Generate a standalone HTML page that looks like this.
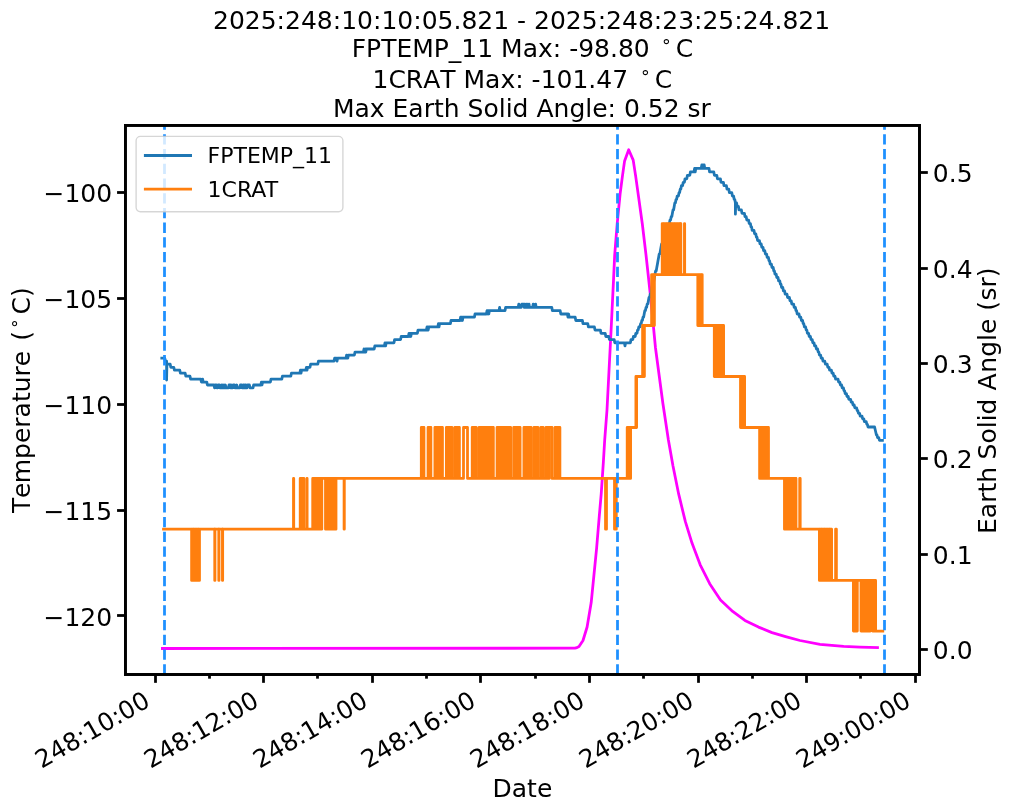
<!DOCTYPE html>
<html lang="en"><head><meta charset="utf-8"><title>FPTEMP_11 / 1CRAT / Earth Solid Angle</title>
<style>html,body{margin:0;padding:0;background:#fff;}svg{display:block;}</style></head>
<body>
<svg width="1011" height="811" viewBox="0 0 1011 811" font-family="'DejaVu Sans', 'Liberation Sans', sans-serif" font-size="25px" fill="#000">
<rect width="1011" height="811" fill="#fff"/>
<defs><clipPath id="ax"><rect x="125.4" y="125.4" width="794.1" height="549.1"/></clipPath></defs>
<g clip-path="url(#ax)" fill="none" stroke-width="2.78">
<path id="mag" d="M162.4 648.5 L574.9 648.2 L577.0 647.6 L579.0 646.5 L583.0 640.5 L587.1 627.0 L591.2 602.6 L593.9 575.5 L596.6 548.4 L599.3 515.9 L601.2 494.2 L603.4 461.7 L604.7 440.0 L607.0 410.0 L611.1 330.0 L613.6 278.4 L614.7 254.9 L617.2 223.7 L620.1 194.1 L622.4 176.4 L624.6 160.9 L628.7 149.8 L633.2 160.1 L635.7 176.4 L638.6 197.1 L642.3 223.7 L646.0 254.9 L648.1 274.0 L650.7 298.1 L655.5 348.0 L662.9 403.5 L668.4 440.0 L673.0 466.0 L678.7 494.2 L685.3 521.4 L692.0 543.1 L700.2 564.8 L709.7 583.7 L720.5 600.0 L732.7 611.4 L744.9 620.4 L758.5 627.1 L772.0 632.6 L785.6 636.6 L800.0 640.5 L820.0 644.3 L843.7 646.4 L860.0 647.1 L877.5 647.6" stroke="#ff00ff" stroke-linejoin="round" stroke-linecap="square"/>
</g>
<g clip-path="url(#ax)" fill="none" stroke-width="2.78" stroke-linejoin="round">
<path d="M161.8 358.2 L162.4 358.2 L163.0 358.2 L163.6 358.2 L164.2 358.2 L164.8 358.2 L165.4 361.2 L166.0 361.2 L166.6 361.2 L166.6 364.2 L166.6 380.0 L166.9 364.2 L167.2 364.2 L167.8 364.2 L168.4 364.2 L169.0 364.2 L169.6 364.2 L170.2 364.2 L170.8 367.3 L171.4 367.3 L172.0 367.3 L172.6 367.3 L173.2 367.3 L173.8 367.3 L174.4 370.2 L175.0 370.2 L175.6 370.2 L176.2 370.2 L176.8 370.2 L177.4 370.2 L178.0 370.2 L178.6 370.2 L179.2 370.2 L179.8 370.2 L180.4 373.2 L181.0 373.2 L181.6 373.2 L182.2 373.2 L182.8 373.2 L183.4 373.2 L184.0 373.2 L184.6 373.2 L185.2 373.2 L185.8 376.2 L186.4 376.2 L187.0 376.2 L187.6 376.2 L188.2 376.2 L188.8 376.2 L189.4 376.2 L190.0 376.2 L190.6 379.1 L191.2 379.1 L191.8 379.1 L192.4 379.1 L193.0 379.1 L193.6 379.1 L194.2 379.1 L194.8 379.1 L195.4 379.1 L196.0 379.1 L196.6 379.1 L197.2 379.1 L197.8 379.1 L198.4 379.1 L199.0 379.1 L199.6 379.1 L200.2 379.1 L200.8 379.1 L201.4 382.1 L202.0 382.1 L202.6 379.1 L203.2 382.1 L203.8 382.1 L204.4 382.1 L205.0 382.1 L205.6 382.1 L206.2 382.1 L206.8 382.1 L207.4 385.0 L208.0 385.0 L208.6 385.0 L209.2 385.0 L209.8 385.0 L210.4 385.0 L211.0 385.0 L211.6 385.0 L212.2 385.0 L212.8 385.0 L213.4 385.0 L214.0 385.0 L214.6 387.9 L215.2 385.0 L215.8 385.0 L216.4 385.0 L217.0 387.9 L217.6 387.9 L218.2 385.0 L218.8 385.0 L219.4 385.0 L220.0 387.9 L220.6 387.9 L221.2 387.9 L221.8 385.0 L222.4 387.9 L223.0 385.0 L223.6 387.9 L224.2 385.0 L224.8 387.9 L225.4 385.0 L226.0 387.9 L226.6 387.9 L227.2 387.9 L227.8 387.9 L228.4 387.9 L229.0 385.0 L229.6 385.0 L230.2 385.0 L230.8 387.9 L231.4 385.0 L232.0 387.9 L232.6 387.9 L233.2 385.0 L233.8 385.0 L234.4 385.0 L235.0 387.9 L235.6 387.9 L236.2 387.9 L236.8 385.0 L237.4 387.9 L238.0 387.9 L238.6 387.9 L239.2 387.9 L239.8 387.9 L240.4 385.0 L241.0 385.0 L241.6 385.0 L242.2 387.9 L242.8 387.9 L243.4 385.0 L244.0 385.0 L244.6 387.9 L245.2 385.0 L245.8 385.0 L246.4 387.9 L247.0 387.9 L247.6 385.0 L248.2 385.0 L248.8 385.0 L249.4 385.0 L250.0 387.9 L250.6 387.9 L251.2 387.9 L251.8 387.9 L252.4 387.9 L253.0 387.9 L253.6 385.0 L254.2 385.0 L254.8 385.0 L255.4 385.0 L256.0 385.0 L256.6 385.0 L257.2 385.0 L257.8 385.0 L258.4 385.0 L259.0 385.0 L259.6 385.0 L260.2 385.0 L260.8 385.0 L261.4 382.1 L262.0 385.0 L262.6 382.1 L263.2 382.1 L263.8 382.1 L264.4 382.1 L265.0 382.1 L265.6 382.1 L266.2 382.1 L266.8 382.1 L267.4 382.1 L268.0 382.1 L268.6 382.1 L269.2 382.1 L269.8 382.1 L270.4 382.1 L271.0 379.1 L271.6 379.1 L272.2 379.1 L272.8 379.1 L273.4 379.1 L274.0 379.1 L274.6 379.1 L275.2 379.1 L275.8 379.1 L276.4 379.1 L277.0 379.1 L277.6 379.1 L278.2 379.1 L278.8 379.1 L279.4 379.1 L280.0 379.1 L280.6 379.1 L281.2 379.1 L281.8 379.1 L282.4 376.2 L283.0 376.2 L283.6 376.2 L284.2 376.2 L284.8 376.2 L285.4 376.2 L286.0 376.2 L286.6 376.2 L287.2 376.2 L287.8 376.2 L288.4 376.2 L289.0 376.2 L289.6 376.2 L290.2 376.2 L290.8 376.2 L291.4 373.2 L292.0 373.2 L292.6 373.2 L293.2 373.2 L293.8 373.2 L294.4 373.2 L295.0 373.2 L295.6 373.2 L296.2 373.2 L296.8 373.2 L297.4 373.2 L298.0 373.2 L298.6 373.2 L299.2 373.2 L299.8 373.2 L300.4 370.2 L301.0 373.2 L301.6 370.2 L302.2 370.2 L302.8 370.2 L303.4 370.2 L304.0 370.2 L304.6 370.2 L305.2 370.2 L305.8 370.2 L306.4 367.3 L307.0 370.2 L307.6 367.3 L308.2 367.3 L308.8 367.3 L309.4 367.3 L310.0 367.3 L310.6 364.2 L311.2 364.2 L311.8 364.2 L312.4 364.2 L313.0 364.2 L313.6 364.2 L314.2 364.2 L314.8 364.2 L315.4 364.2 L316.0 364.2 L316.6 364.2 L317.2 364.2 L317.8 364.2 L318.4 361.2 L319.0 361.2 L319.6 361.2 L320.2 361.2 L320.8 361.2 L321.4 361.2 L322.0 361.2 L322.6 361.2 L323.2 361.2 L323.8 361.2 L324.4 361.2 L325.0 361.2 L325.6 361.2 L326.2 361.2 L326.8 361.2 L327.4 361.2 L328.0 361.2 L328.6 361.2 L329.2 361.2 L329.8 361.2 L330.4 361.2 L331.0 361.2 L331.6 361.2 L332.2 361.2 L332.8 361.2 L333.4 361.2 L334.0 361.2 L334.6 358.2 L335.2 358.2 L335.8 358.2 L336.4 358.2 L337.0 361.2 L337.6 358.2 L338.2 358.2 L338.8 358.2 L339.4 358.2 L340.0 358.2 L340.6 358.2 L341.2 358.2 L341.8 358.2 L342.4 358.2 L343.0 358.2 L343.6 358.2 L344.2 358.2 L344.8 358.2 L345.4 358.2 L346.0 358.2 L346.6 355.1 L347.2 358.2 L347.8 358.2 L348.4 355.1 L349.0 355.1 L349.6 355.1 L350.2 355.1 L350.8 355.1 L351.4 355.1 L352.0 355.1 L352.6 355.1 L353.2 355.1 L353.8 355.1 L354.4 355.1 L355.0 352.1 L355.6 352.1 L356.2 352.1 L356.8 352.1 L357.4 352.1 L358.0 352.1 L358.6 352.1 L359.2 352.1 L359.8 352.1 L360.4 352.1 L361.0 352.1 L361.6 352.1 L362.2 352.1 L362.8 352.1 L363.4 352.1 L364.0 349.0 L364.6 352.1 L365.2 349.0 L365.8 352.1 L366.4 349.0 L367.0 349.0 L367.6 349.0 L368.2 349.0 L368.8 349.0 L369.4 349.0 L370.0 349.0 L370.6 349.0 L371.2 349.0 L371.8 349.0 L372.4 349.0 L373.0 349.0 L373.6 349.0 L374.2 349.0 L374.8 345.9 L375.4 345.9 L376.0 345.9 L376.6 345.9 L377.2 345.9 L377.8 345.9 L378.4 345.9 L379.0 345.9 L379.6 345.9 L380.2 345.9 L380.8 345.9 L381.4 345.9 L382.0 345.9 L382.6 345.9 L383.2 345.9 L383.8 345.9 L384.4 345.9 L385.0 342.8 L385.6 345.9 L386.2 342.8 L386.8 342.8 L387.4 342.8 L388.0 342.8 L388.6 342.8 L389.2 342.8 L389.8 342.8 L390.4 342.8 L391.0 342.8 L391.6 342.8 L392.2 342.8 L392.8 342.8 L393.4 342.8 L394.0 342.8 L394.6 339.6 L395.2 339.6 L395.8 339.6 L396.4 339.6 L397.0 339.6 L397.6 339.6 L398.2 339.6 L398.8 339.6 L399.4 339.6 L400.0 339.6 L400.6 339.6 L401.2 336.5 L401.8 336.5 L402.4 336.5 L403.0 336.5 L403.6 336.5 L404.2 336.5 L404.8 336.5 L405.4 336.5 L406.0 336.5 L406.6 336.5 L407.2 336.5 L407.8 336.5 L408.4 336.5 L409.0 333.3 L409.6 336.5 L410.2 333.3 L410.8 336.5 L411.4 333.3 L412.0 333.3 L412.6 333.3 L413.2 333.3 L413.8 333.3 L414.4 333.3 L415.0 333.3 L415.6 333.3 L416.2 333.3 L416.8 333.3 L417.4 333.3 L418.0 330.1 L418.6 330.1 L419.2 330.1 L419.8 330.1 L420.4 330.1 L421.0 330.1 L421.6 330.1 L422.2 330.1 L422.8 330.1 L423.4 330.1 L424.0 330.1 L424.6 330.1 L425.2 330.1 L425.8 330.1 L426.4 330.1 L427.0 326.9 L427.6 326.9 L428.2 330.1 L428.8 326.9 L429.4 326.9 L430.0 326.9 L430.6 326.9 L431.2 326.9 L431.8 326.9 L432.4 326.9 L433.0 326.9 L433.6 326.9 L434.2 326.9 L434.8 326.9 L435.4 326.9 L436.0 326.9 L436.6 326.9 L437.2 326.9 L437.8 326.9 L438.4 323.7 L439.0 326.9 L439.6 323.7 L440.2 323.7 L440.8 323.7 L441.4 323.7 L442.0 323.7 L442.6 323.7 L443.2 323.7 L443.8 323.7 L444.4 323.7 L445.0 323.7 L445.6 323.7 L446.2 323.7 L446.8 323.7 L447.4 323.7 L448.0 323.7 L448.6 323.7 L449.2 323.7 L449.8 323.7 L450.4 323.7 L451.0 320.5 L451.6 320.5 L452.2 320.5 L452.8 320.5 L453.4 320.5 L454.0 320.5 L454.6 320.5 L455.2 320.5 L455.8 320.5 L456.4 320.5 L457.0 320.5 L457.6 320.5 L458.2 320.5 L458.8 320.5 L459.4 320.5 L460.0 320.5 L460.6 317.2 L461.2 320.5 L461.8 317.2 L462.4 320.5 L463.0 317.2 L463.6 317.2 L464.2 317.2 L464.8 317.2 L465.4 317.2 L466.0 317.2 L466.6 317.2 L467.2 317.2 L467.8 317.2 L468.4 317.2 L469.0 317.2 L469.6 317.2 L470.2 317.2 L470.8 317.2 L471.4 317.2 L472.0 317.2 L472.6 317.2 L473.2 317.2 L473.8 317.2 L474.4 317.2 L475.0 314.0 L475.6 314.0 L476.2 314.0 L476.8 314.0 L477.4 314.0 L478.0 314.0 L478.6 314.0 L479.2 314.0 L479.8 314.0 L480.4 314.0 L481.0 314.0 L481.6 314.0 L482.2 314.0 L482.8 314.0 L483.4 314.0 L484.0 314.0 L484.6 314.0 L485.2 314.0 L485.8 314.0 L486.4 314.0 L487.0 310.7 L487.6 314.0 L488.2 310.7 L488.8 314.0 L489.4 310.7 L490.0 310.7 L490.6 310.7 L491.2 310.7 L491.8 310.7 L492.4 310.7 L493.0 310.7 L493.6 310.7 L494.2 310.7 L494.8 310.7 L495.4 310.7 L496.0 310.7 L496.6 310.7 L497.2 310.7 L497.8 310.7 L498.4 310.7 L499.0 310.7 L499.6 307.4 L500.2 310.7 L500.8 310.7 L501.4 310.7 L502.0 310.7 L502.6 310.7 L503.2 310.7 L503.8 310.7 L504.4 310.7 L505.0 310.7 L505.6 307.4 L506.2 307.4 L506.8 307.4 L507.4 307.4 L508.0 307.4 L508.6 307.4 L509.2 307.4 L509.8 307.4 L510.4 307.4 L511.0 307.4 L511.6 307.4 L512.2 307.4 L512.8 307.4 L513.4 307.4 L514.0 307.4 L514.6 307.4 L515.2 307.4 L515.8 307.4 L516.4 307.4 L517.0 307.4 L517.6 307.4 L518.2 307.4 L518.8 304.1 L519.4 307.4 L520.0 307.4 L520.6 307.4 L521.2 307.4 L521.8 304.1 L522.4 304.1 L523.0 304.1 L523.6 304.1 L524.2 307.4 L524.8 304.1 L525.4 307.4 L526.0 307.4 L526.6 304.1 L527.2 304.1 L527.8 307.4 L528.4 307.4 L529.0 304.1 L529.6 307.4 L530.2 307.4 L530.8 307.4 L531.4 307.4 L532.0 307.4 L532.6 307.4 L533.2 304.1 L533.8 307.4 L534.4 307.4 L535.0 307.4 L535.6 304.1 L536.2 307.4 L536.8 307.4 L537.4 307.4 L538.0 307.4 L538.6 307.4 L539.2 307.4 L539.8 307.4 L540.4 307.4 L541.0 307.4 L541.6 307.4 L542.2 307.4 L542.8 307.4 L543.4 307.4 L544.0 307.4 L544.6 307.4 L545.2 307.4 L545.8 307.4 L546.4 307.4 L547.0 307.4 L547.6 307.4 L548.2 307.4 L548.8 307.4 L549.4 307.4 L550.0 307.4 L550.6 307.4 L551.2 307.4 L551.8 307.4 L552.4 310.7 L553.0 310.7 L553.6 310.7 L554.2 310.7 L554.8 310.7 L555.4 310.7 L556.0 310.7 L556.6 310.7 L557.2 310.7 L557.8 310.7 L558.4 310.7 L559.0 310.7 L559.6 310.7 L560.2 310.7 L560.8 314.0 L561.4 314.0 L562.0 314.0 L562.6 314.0 L563.2 314.0 L563.8 314.0 L564.4 314.0 L565.0 314.0 L565.6 314.0 L566.2 314.0 L566.8 314.0 L567.4 314.0 L568.0 317.2 L568.6 314.0 L569.2 317.2 L569.8 317.2 L570.4 317.2 L571.0 317.2 L571.6 317.2 L572.2 317.2 L572.8 317.2 L573.4 317.2 L574.0 317.2 L574.6 317.2 L575.2 317.2 L575.8 320.5 L576.4 320.5 L577.0 320.5 L577.6 320.5 L578.2 320.5 L578.8 320.5 L579.4 320.5 L580.0 320.5 L580.6 320.5 L581.2 320.5 L581.8 320.5 L582.4 320.5 L583.0 323.7 L583.6 323.7 L584.2 323.7 L584.8 323.7 L585.4 323.7 L586.0 323.7 L586.6 323.7 L587.2 323.7 L587.8 323.7 L588.4 326.9 L589.0 326.9 L589.6 326.9 L590.2 326.9 L590.8 326.9 L591.4 326.9 L592.0 326.9 L592.6 326.9 L593.2 326.9 L593.8 326.9 L594.4 326.9 L595.0 330.1 L595.6 330.1 L596.2 330.1 L596.8 330.1 L597.4 330.1 L598.0 330.1 L598.6 330.1 L599.2 330.1 L599.8 330.1 L600.4 330.1 L601.0 333.3 L601.6 333.3 L602.2 333.3 L602.8 333.3 L603.4 333.3 L604.0 333.3 L604.6 333.3 L605.2 333.3 L605.8 336.5 L606.4 336.5 L607.0 336.5 L607.6 336.5 L608.2 336.5 L608.8 336.5 L609.4 339.6 L610.0 339.6 L610.6 339.6 L611.2 339.6 L611.8 339.6 L612.4 339.6 L613.0 339.6 L613.6 339.6 L614.2 339.6 L614.8 342.8 L615.4 342.8 L616.0 342.8 L616.6 342.8 L617.2 342.8 L617.8 342.8 L618.4 342.8 L619.0 342.8 L619.6 342.8 L620.2 342.8 L620.8 342.8 L621.4 342.8 L622.0 342.8 L622.6 342.8 L623.2 342.8 L623.8 342.8 L624.4 342.8 L625.0 345.9 L625.6 342.8 L626.2 342.8 L626.8 342.8 L627.4 342.8 L628.0 342.8 L628.6 342.8 L629.2 342.8 L629.8 342.8 L630.4 342.8 L631.0 339.6 L631.6 339.6 L632.2 339.6 L632.8 339.6 L633.4 336.5 L634.0 336.5 L634.6 336.5 L635.2 336.5 L635.8 333.3 L636.4 333.3 L637.0 333.3 L637.6 330.1 L638.2 330.1 L638.8 326.9 L639.4 326.9 L640.0 326.9 L640.6 323.7 L641.2 323.7 L641.8 320.5 L642.4 320.5 L643.0 317.2 L643.6 317.2 L644.2 314.0 L644.8 310.7 L645.4 310.7 L646.0 307.4 L646.6 307.4 L647.2 304.1 L647.8 304.1 L648.4 300.8 L649.0 297.5 L649.6 297.5 L650.2 294.2 L650.8 294.2 L651.4 290.9 L652.0 287.5 L652.6 284.2 L653.2 284.2 L653.8 280.9 L654.4 277.5 L655.0 274.2 L655.6 270.9 L656.2 270.9 L656.8 267.5 L657.4 264.2 L658.0 260.8 L658.6 257.4 L659.2 254.1 L659.8 254.1 L660.4 250.7 L661.0 247.3 L661.6 243.9 L662.2 243.9 L662.8 240.6 L663.4 237.2 L664.0 237.2 L664.6 233.8 L665.2 233.8 L665.8 230.4 L666.4 230.4 L667.0 227.0 L667.6 227.0 L668.2 227.0 L668.8 223.6 L669.4 223.6 L670.0 220.1 L670.6 220.1 L671.2 216.7 L671.8 216.7 L672.4 213.3 L673.0 209.9 L673.6 209.9 L674.2 206.4 L674.8 203.0 L675.4 203.0 L676.0 199.6 L676.6 199.6 L677.2 196.1 L677.8 196.1 L678.4 196.1 L679.0 192.7 L679.6 192.7 L680.2 189.2 L680.8 189.2 L681.4 185.7 L682.0 185.7 L682.6 185.7 L683.2 182.3 L683.8 182.3 L684.4 182.3 L685.0 178.8 L685.6 178.8 L686.2 178.8 L686.8 178.8 L687.4 175.3 L688.0 175.3 L688.6 175.3 L689.2 175.3 L689.8 175.3 L690.4 171.9 L691.0 171.9 L691.6 171.9 L692.2 171.9 L692.8 171.9 L693.4 171.9 L694.0 171.9 L694.6 168.4 L695.2 171.9 L695.8 168.4 L696.4 168.4 L697.0 168.4 L697.6 168.4 L698.2 168.4 L698.8 168.4 L699.4 168.4 L700.0 168.4 L700.6 168.4 L701.2 168.4 L701.8 164.9 L702.4 168.4 L703.0 164.9 L703.6 168.4 L704.2 164.9 L704.8 168.4 L705.4 168.4 L706.0 168.4 L706.6 168.4 L707.2 168.4 L707.8 168.4 L708.4 168.4 L709.0 168.4 L709.6 171.9 L710.2 171.9 L710.8 171.9 L711.4 171.9 L712.0 171.9 L712.6 171.9 L713.2 171.9 L713.8 171.9 L714.4 175.3 L715.0 175.3 L715.6 175.3 L716.2 175.3 L716.8 175.3 L717.4 178.8 L718.0 178.8 L718.6 178.8 L719.2 178.8 L719.8 178.8 L720.4 178.8 L721.0 182.3 L721.6 182.3 L722.2 182.3 L722.8 182.3 L723.4 182.3 L724.0 185.7 L724.6 185.7 L725.2 185.7 L725.8 185.7 L726.4 185.7 L727.0 189.2 L727.6 189.2 L728.2 189.2 L728.8 189.2 L729.4 192.7 L730.0 192.7 L730.6 192.7 L731.2 192.7 L731.8 192.7 L732.4 196.1 L733.0 196.1 L733.6 196.1 L734.2 199.6 L734.8 199.6 L735.4 203.0 L735.4 203.0 L735.4 214.2 L735.7 203.0 L736.0 203.0 L736.6 203.0 L737.2 206.4 L737.8 206.4 L738.4 206.4 L739.0 209.9 L739.6 209.9 L740.2 209.9 L740.8 209.9 L741.4 209.9 L742.0 213.3 L742.6 213.3 L743.2 213.3 L743.8 213.3 L744.4 213.3 L745.0 216.7 L745.6 216.7 L746.2 216.7 L746.8 220.1 L747.4 220.1 L748.0 220.1 L748.6 220.1 L749.2 223.6 L749.8 223.6 L750.4 223.6 L751.0 227.0 L751.6 227.0 L752.2 230.4 L752.8 230.4 L753.4 230.4 L754.0 230.4 L754.6 233.8 L755.2 233.8 L755.8 233.8 L756.4 237.2 L757.0 237.2 L757.6 240.6 L758.2 240.6 L758.8 240.6 L759.4 240.6 L760.0 243.9 L760.6 243.9 L761.2 243.9 L761.8 247.3 L762.4 247.3 L763.0 247.3 L763.6 250.7 L764.2 250.7 L764.8 250.7 L765.4 254.1 L766.0 254.1 L766.6 254.1 L767.2 257.4 L767.8 257.4 L768.4 257.4 L769.0 260.8 L769.6 260.8 L770.2 264.2 L770.8 264.2 L771.4 264.2 L772.0 267.5 L772.6 267.5 L773.2 267.5 L773.8 270.9 L774.4 270.9 L775.0 274.2 L775.6 274.2 L776.2 274.2 L776.8 277.5 L777.4 277.5 L778.0 277.5 L778.6 280.9 L779.2 280.9 L779.8 280.9 L780.4 284.2 L781.0 284.2 L781.6 287.5 L782.2 287.5 L782.8 287.5 L783.4 290.9 L784.0 290.9 L784.6 290.9 L785.2 294.2 L785.8 294.2 L786.4 294.2 L787.0 294.2 L787.6 297.5 L788.2 297.5 L788.8 297.5 L789.4 297.5 L790.0 300.8 L790.6 300.8 L791.2 300.8 L791.8 304.1 L792.4 304.1 L793.0 304.1 L793.6 304.1 L794.2 307.4 L794.8 307.4 L795.4 307.4 L796.0 310.7 L796.6 310.7 L797.2 314.0 L797.8 314.0 L798.4 314.0 L799.0 314.0 L799.6 317.2 L800.2 317.2 L800.8 317.2 L801.4 320.5 L802.0 320.5 L802.6 320.5 L803.2 323.7 L803.8 323.7 L804.4 326.9 L805.0 326.9 L805.6 326.9 L806.2 330.1 L806.8 330.1 L807.4 333.3 L808.0 333.3 L808.6 333.3 L809.2 336.5 L809.8 336.5 L810.4 336.5 L811.0 339.6 L811.6 339.6 L812.2 339.6 L812.8 342.8 L813.4 342.8 L814.0 342.8 L814.6 345.9 L815.2 345.9 L815.8 345.9 L816.4 349.0 L817.0 349.0 L817.6 349.0 L818.2 352.1 L818.8 352.1 L819.4 355.1 L820.0 355.1 L820.6 355.1 L821.2 358.2 L821.8 358.2 L822.4 358.2 L823.0 361.2 L823.6 361.2 L824.2 361.2 L824.8 361.2 L825.4 364.2 L826.0 364.2 L826.6 364.2 L827.2 364.2 L827.8 367.3 L828.4 367.3 L829.0 367.3 L829.6 370.2 L830.2 370.2 L830.8 370.2 L831.4 370.2 L832.0 373.2 L832.6 373.2 L833.2 373.2 L833.8 376.2 L834.4 376.2 L835.0 376.2 L835.6 379.1 L836.2 379.1 L836.8 379.1 L837.4 379.1 L838.0 379.1 L838.6 382.1 L839.2 382.1 L839.8 382.1 L840.4 385.0 L841.0 385.0 L841.6 385.0 L842.2 387.9 L842.8 387.9 L843.4 387.9 L844.0 390.8 L844.6 390.8 L845.2 393.6 L845.8 393.6 L846.4 393.6 L847.0 396.5 L847.6 396.5 L848.2 396.5 L848.8 399.3 L849.4 399.3 L850.0 399.3 L850.6 399.3 L851.2 402.2 L851.8 402.2 L852.4 402.2 L853.0 405.0 L853.6 405.0 L854.2 405.0 L854.8 407.8 L855.4 407.8 L856.0 407.8 L856.6 407.8 L857.2 410.6 L857.8 410.6 L858.4 413.3 L859.0 413.3 L859.6 413.3 L860.2 416.1 L860.8 416.1 L861.4 416.1 L862.0 416.1 L862.6 418.8 L863.2 418.8 L863.8 418.8 L864.4 421.6 L865.0 421.6 L865.6 421.6 L866.2 421.6 L866.8 424.3 L867.4 424.3 L868.0 427.0 L868.6 427.0 L869.2 427.0 L869.8 427.0 L870.4 427.0 L871.0 427.0 L871.6 427.0 L872.2 427.0 L872.8 427.0 L873.4 427.0 L874.0 427.0 L874.6 427.0 L875.2 429.7 L875.8 432.3 L876.4 435.0 L877.0 435.0 L877.6 437.7 L878.2 437.7 L878.8 437.7 L879.4 440.3 L880.0 440.3 L880.6 440.3 L881.2 440.3 L881.8 440.3 L882.4 440.3" stroke="#1f77b4" stroke-linecap="square"/>
<path d="M163.50 529.2 L191.60 529.2 L191.60 580.4 L192.40 580.4 L192.40 529.2 L193.20 529.2 L193.20 580.4 L194.00 580.4 L194.00 529.2 L194.80 529.2 L194.80 580.4 L195.60 580.4 L195.60 529.2 L196.40 529.2 L196.40 580.4 L197.20 580.4 L197.20 529.2 L198.00 529.2 L198.00 580.4 L198.80 580.4 L198.80 529.2 L199.50 529.2 L199.50 580.4 L199.50 529.2 L214.73 529.2 L214.73 580.4 L214.97 580.4 L214.97 529.2 L218.78 529.2 L218.78 580.4 L219.02 580.4 L219.02 529.2 L222.43 529.2 L222.43 580.4 L222.67 580.4 L222.67 529.2 L293.48 529.2 L293.48 478.4 L293.72 478.4 L293.72 529.2 L300.20 529.2 L300.20 478.4 L301.00 478.4 L301.00 529.2 L301.80 529.2 L301.80 478.4 L302.60 478.4 L302.60 529.2 L303.40 529.2 L303.40 478.4 L303.90 478.4 L303.90 529.2 L303.90 529.2 L306.88 529.2 L306.88 478.4 L307.12 478.4 L307.12 529.2 L312.70 529.2 L312.70 478.4 L313.50 478.4 L313.50 529.2 L314.30 529.2 L314.30 478.4 L315.10 478.4 L315.10 529.2 L315.90 529.2 L315.90 478.4 L316.70 478.4 L316.70 529.2 L317.50 529.2 L317.50 478.4 L318.30 478.4 L318.30 529.2 L319.10 529.2 L319.10 478.4 L319.90 478.4 L319.90 529.2 L320.70 529.2 L320.70 478.4 L321.50 478.4 L321.50 529.2 L321.80 529.2 L321.80 478.4 L321.80 478.4 L325.50 478.4 L325.50 529.2 L326.30 529.2 L326.30 478.4 L327.10 478.4 L327.10 529.2 L327.90 529.2 L327.90 478.4 L328.70 478.4 L328.70 529.2 L329.50 529.2 L329.50 478.4 L330.30 478.4 L330.30 529.2 L331.10 529.2 L331.10 478.4 L331.90 478.4 L331.90 529.2 L332.70 529.2 L332.70 478.4 L333.50 478.4 L333.50 529.2 L334.30 529.2 L334.30 478.4 L335.10 478.4 L335.10 529.2 L335.90 529.2 L335.90 478.4 L336.00 478.4 L336.00 529.2 L336.00 478.4 L344.08 478.4 L344.08 529.2 L344.32 529.2 L344.32 478.4 L421.30 478.4 L421.30 427.5 L422.10 427.5 L422.10 478.4 L422.90 478.4 L422.90 427.5 L423.70 427.5 L423.70 478.4 L423.95 478.4 L423.95 427.5 L423.95 478.4 L428.05 478.4 L428.05 427.5 L428.85 427.5 L428.85 478.4 L429.65 478.4 L429.65 427.5 L430.45 427.5 L430.45 478.4 L430.90 478.4 L430.90 427.5 L430.90 478.4 L434.90 478.4 L434.90 427.5 L435.70 427.5 L435.70 478.4 L436.50 478.4 L436.50 427.5 L437.30 427.5 L437.30 478.4 L438.10 478.4 L438.10 427.5 L438.90 427.5 L438.90 478.4 L439.70 478.4 L439.70 427.5 L440.50 427.5 L440.50 478.4 L441.30 478.4 L441.30 427.5 L442.10 427.5 L442.10 478.4 L442.45 478.4 L442.45 427.5 L442.45 478.4 L446.35 478.4 L446.35 427.5 L447.15 427.5 L447.15 478.4 L447.95 478.4 L447.95 427.5 L448.75 427.5 L448.75 478.4 L449.55 478.4 L449.55 427.5 L450.35 427.5 L450.35 478.4 L451.15 478.4 L451.15 427.5 L451.95 427.5 L451.95 478.4 L454.78 478.4 L454.78 427.5 L455.58 427.5 L455.58 478.4 L456.38 478.4 L456.38 427.5 L457.18 427.5 L457.18 478.4 L457.98 478.4 L457.98 427.5 L458.78 427.5 L458.78 478.4 L459.40 478.4 L459.40 427.5 L459.40 478.4 L463.50 478.4 L463.50 427.5 L467.50 427.5 L467.50 478.4 L472.20 478.4 L472.20 427.5 L473.00 427.5 L473.00 478.4 L473.80 478.4 L473.80 427.5 L474.60 427.5 L474.60 478.4 L475.40 478.4 L475.40 427.5 L476.20 427.5 L476.20 478.4 L479.03 478.4 L479.03 427.5 L479.83 427.5 L479.83 478.4 L480.63 478.4 L480.63 427.5 L481.43 427.5 L481.43 478.4 L482.23 478.4 L482.23 427.5 L483.03 427.5 L483.03 478.4 L483.83 478.4 L483.83 427.5 L484.63 427.5 L484.63 478.4 L485.43 478.4 L485.43 427.5 L486.23 427.5 L486.23 478.4 L487.03 478.4 L487.03 427.5 L487.83 427.5 L487.83 478.4 L488.63 478.4 L488.63 427.5 L489.43 427.5 L489.43 478.4 L490.23 478.4 L490.23 427.5 L491.03 427.5 L491.03 478.4 L491.83 478.4 L491.83 427.5 L492.63 427.5 L492.63 478.4 L493.35 478.4 L493.35 427.5 L493.35 478.4 L497.05 478.4 L497.05 427.5 L497.85 427.5 L497.85 478.4 L498.65 478.4 L498.65 427.5 L499.45 427.5 L499.45 478.4 L500.25 478.4 L500.25 427.5 L501.05 427.5 L501.05 478.4 L501.85 478.4 L501.85 427.5 L502.65 427.5 L502.65 478.4 L503.45 478.4 L503.45 427.5 L504.25 427.5 L504.25 478.4 L505.05 478.4 L505.05 427.5 L505.85 427.5 L505.85 478.4 L506.65 478.4 L506.65 427.5 L507.45 427.5 L507.45 478.4 L508.25 478.4 L508.25 427.5 L509.05 427.5 L509.05 478.4 L509.85 478.4 L509.85 427.5 L510.65 427.5 L510.65 478.4 L513.65 478.4 L513.65 427.5 L514.45 427.5 L514.45 478.4 L515.25 478.4 L515.25 427.5 L516.05 427.5 L516.05 478.4 L516.85 478.4 L516.85 427.5 L517.65 427.5 L517.65 478.4 L518.45 478.4 L518.45 427.5 L519.25 427.5 L519.25 478.4 L520.05 478.4 L520.05 427.5 L520.10 427.5 L520.10 478.4 L520.10 478.4 L523.90 478.4 L523.90 427.5 L524.70 427.5 L524.70 478.4 L525.50 478.4 L525.50 427.5 L526.30 427.5 L526.30 478.4 L527.10 478.4 L527.10 427.5 L527.90 427.5 L527.90 478.4 L528.70 478.4 L528.70 427.5 L529.50 427.5 L529.50 478.4 L530.30 478.4 L530.30 427.5 L531.10 427.5 L531.10 478.4 L533.94 478.4 L533.94 427.5 L534.74 427.5 L534.74 478.4 L535.54 478.4 L535.54 427.5 L536.34 427.5 L536.34 478.4 L537.14 478.4 L537.14 427.5 L537.94 427.5 L537.94 478.4 L540.78 478.4 L540.78 427.5 L541.58 427.5 L541.58 478.4 L542.38 478.4 L542.38 427.5 L543.18 427.5 L543.18 478.4 L545.99 478.4 L545.99 427.5 L546.79 427.5 L546.79 478.4 L547.59 478.4 L547.59 427.5 L548.39 427.5 L548.39 478.4 L549.19 478.4 L549.19 427.5 L552.02 427.5 L552.02 478.4 L555.01 478.4 L555.01 427.5 L555.81 427.5 L555.81 478.4 L556.61 478.4 L556.61 427.5 L557.41 427.5 L557.41 478.4 L558.21 478.4 L558.21 427.5 L559.01 427.5 L559.01 478.4 L559.81 478.4 L559.81 427.5 L559.90 427.5 L559.90 478.4 L559.90 478.4 L605.50 478.4 L605.50 529.2 L606.30 529.2 L606.30 478.4 L606.50 478.4 L606.50 529.2 L606.50 478.4 L614.50 478.4 L614.50 529.2 L615.30 529.2 L615.30 478.4 L616.10 478.4 L616.10 529.2 L616.30 529.2 L616.30 478.4 L616.30 478.4 L627.20 478.4 L627.20 427.5 L628.00 427.5 L628.00 478.4 L628.80 478.4 L628.80 427.5 L629.60 427.5 L629.60 478.4 L630.40 478.4 L630.40 427.5 L630.60 427.5 L630.60 478.4 L630.60 427.5 L635.90 427.5 L635.90 376.5 L636.60 376.5 L636.60 427.5 L636.60 376.5 L642.60 376.5 L642.60 325.5 L643.40 325.5 L643.40 376.5 L644.20 376.5 L644.20 325.5 L644.40 325.5 L644.40 376.5 L644.40 325.5 L651.60 325.5 L651.60 274.6 L652.40 274.6 L652.40 325.5 L653.20 325.5 L653.20 274.6 L654.00 274.6 L654.00 325.5 L654.40 325.5 L654.40 274.6 L654.40 274.6 L662.20 274.6 L662.20 223.6 L663.00 223.6 L663.00 274.6 L663.80 274.6 L663.80 223.6 L664.60 223.6 L664.60 274.6 L665.40 274.6 L665.40 223.6 L666.20 223.6 L666.20 274.6 L667.00 274.6 L667.00 223.6 L667.80 223.6 L667.80 274.6 L668.60 274.6 L668.60 223.6 L669.40 223.6 L669.40 274.6 L670.20 274.6 L670.20 223.6 L671.00 223.6 L671.00 274.6 L671.80 274.6 L671.80 223.6 L672.60 223.6 L672.60 274.6 L673.40 274.6 L673.40 223.6 L674.20 223.6 L674.20 274.6 L675.00 274.6 L675.00 223.6 L675.80 223.6 L675.80 274.6 L676.60 274.6 L676.60 223.6 L677.40 223.6 L677.40 274.6 L678.20 274.6 L678.20 223.6 L679.00 223.6 L679.00 274.6 L679.80 274.6 L679.80 223.6 L680.60 223.6 L680.60 274.6 L680.85 274.6 L680.85 223.6 L680.85 274.6 L684.43 274.6 L684.43 223.6 L684.67 223.6 L684.67 274.6 L697.80 274.6 L697.80 325.5 L698.60 325.5 L698.60 274.6 L699.40 274.6 L699.40 325.5 L700.20 325.5 L700.20 274.6 L701.00 274.6 L701.00 325.5 L701.80 325.5 L701.80 274.6 L702.20 274.6 L702.20 325.5 L702.20 325.5 L714.30 325.5 L714.30 376.5 L715.10 376.5 L715.10 325.5 L715.90 325.5 L715.90 376.5 L716.70 376.5 L716.70 325.5 L717.50 325.5 L717.50 376.5 L718.30 376.5 L718.30 325.5 L719.10 325.5 L719.10 376.5 L719.90 376.5 L719.90 325.5 L720.70 325.5 L720.70 376.5 L721.50 376.5 L721.50 325.5 L722.30 325.5 L722.30 376.5 L723.10 376.5 L723.10 325.5 L723.60 325.5 L723.60 376.5 L723.60 376.5 L740.50 376.5 L740.50 427.5 L741.30 427.5 L741.30 376.5 L742.10 376.5 L742.10 427.5 L742.90 427.5 L742.90 376.5 L743.70 376.5 L743.70 427.5 L744.50 427.5 L744.50 376.5 L744.60 376.5 L744.60 427.5 L744.60 427.5 L759.60 427.5 L759.60 478.4 L760.40 478.4 L760.40 427.5 L761.20 427.5 L761.20 478.4 L762.00 478.4 L762.00 427.5 L762.80 427.5 L762.80 478.4 L763.60 478.4 L763.60 427.5 L764.40 427.5 L764.40 478.4 L765.20 478.4 L765.20 427.5 L766.00 427.5 L766.00 478.4 L766.80 478.4 L766.80 427.5 L767.60 427.5 L767.60 478.4 L768.40 478.4 L768.40 427.5 L768.50 427.5 L768.50 478.4 L768.50 478.4 L784.45 478.4 L784.45 529.2 L785.25 529.2 L785.25 478.4 L786.05 478.4 L786.05 529.2 L786.85 529.2 L786.85 478.4 L787.65 478.4 L787.65 529.2 L788.45 529.2 L788.45 478.4 L789.25 478.4 L789.25 529.2 L790.05 529.2 L790.05 478.4 L790.85 478.4 L790.85 529.2 L791.65 529.2 L791.65 478.4 L792.45 478.4 L792.45 529.2 L793.25 529.2 L793.25 478.4 L794.05 478.4 L794.05 529.2 L794.85 529.2 L794.85 478.4 L795.65 478.4 L795.65 529.2 L796.00 529.2 L796.00 478.4 L796.00 529.2 L799.70 529.2 L799.70 478.4 L800.20 478.4 L800.20 529.2 L800.20 529.2 L819.40 529.2 L819.40 580.4 L820.20 580.4 L820.20 529.2 L821.00 529.2 L821.00 580.4 L821.80 580.4 L821.80 529.2 L822.60 529.2 L822.60 580.4 L823.40 580.4 L823.40 529.2 L824.20 529.2 L824.20 580.4 L825.00 580.4 L825.00 529.2 L825.80 529.2 L825.80 580.4 L826.60 580.4 L826.60 529.2 L827.40 529.2 L827.40 580.4 L828.20 580.4 L828.20 529.2 L829.00 529.2 L829.00 580.4 L829.80 580.4 L829.80 529.2 L830.60 529.2 L830.60 580.4 L831.40 580.4 L831.40 529.2 L831.60 529.2 L831.60 580.4 L831.60 580.4 L835.60 580.4 L835.60 529.2 L836.40 529.2 L836.40 580.4 L836.40 580.4 L853.40 580.4 L853.40 631.1 L854.20 631.1 L854.20 580.4 L855.00 580.4 L855.00 631.1 L855.80 631.1 L855.80 580.4 L856.60 580.4 L856.60 631.1 L857.30 631.1 L857.30 580.4 L857.30 580.4 L861.00 580.4 L861.00 631.1 L861.80 631.1 L861.80 580.4 L862.60 580.4 L862.60 631.1 L863.40 631.1 L863.40 580.4 L864.20 580.4 L864.20 631.1 L865.00 631.1 L865.00 580.4 L865.80 580.4 L865.80 631.1 L866.60 631.1 L866.60 580.4 L867.40 580.4 L867.40 631.1 L868.20 631.1 L868.20 580.4 L869.00 580.4 L869.00 631.1 L869.80 631.1 L869.80 580.4 L870.30 580.4 L870.30 631.1 L870.30 580.4 L872.50 580.4 L872.50 631.1 L873.30 631.1 L873.30 580.4 L874.10 580.4 L874.10 631.1 L874.90 631.1 L874.90 580.4 L875.60 580.4 L875.60 631.1 L875.60 631.1 L882.80 631.1" stroke="#ff7f0e" stroke-linejoin="round" stroke-linecap="square"/>
<path d="M164.5 674.5 L164.5 125.4" stroke="#1e90ff" stroke-dasharray="10.28 4.44"/>
<path d="M617.5 674.5 L617.5 125.4" stroke="#1e90ff" stroke-dasharray="10.28 4.44"/>
<path d="M884.5 674.5 L884.5 125.4" stroke="#1e90ff" stroke-dasharray="10.28 4.44"/>
</g>
<rect x="136.1" y="136.4" width="206.8" height="75.3" rx="4.4" ry="4.4" fill="#fff" fill-opacity="0.8" stroke="#ccc" stroke-opacity="0.8" stroke-width="1.39"/>
<path d="M145.3 155.5 H190.6" stroke="#1f77b4" stroke-width="2.78" stroke-linecap="square"/>
<path d="M145.3 189.2 H190.6" stroke="#ff7f0e" stroke-width="2.78" stroke-linecap="square"/>
<text x="207.6" y="163.1" font-size="22px">FPTEMP_11</text>
<text x="207.6" y="196.7" font-size="22px">1CRAT</text>
<g stroke="#000" stroke-width="2.78" fill="none" stroke-linecap="butt">
<rect x="125.4" y="125.4" width="794.1" height="549.1" stroke-linejoin="miter"/>
<rect x="125.4" y="125.4" width="794.1" height="549.1" stroke-linejoin="miter"/>
<path d="M155.5 674.5 V682.83"/>
<path d="M209.5 674.5 V678.67"/>
<path d="M263.5 674.5 V682.83"/>
<path d="M317.5 674.5 V678.67"/>
<path d="M372.5 674.5 V682.83"/>
<path d="M426.5 674.5 V678.67"/>
<path d="M480.5 674.5 V682.83"/>
<path d="M535.5 674.5 V678.67"/>
<path d="M589.5 674.5 V682.83"/>
<path d="M643.5 674.5 V678.67"/>
<path d="M698.5 674.5 V682.83"/>
<path d="M752.5 674.5 V678.67"/>
<path d="M806.5 674.5 V682.83"/>
<path d="M860.5 674.5 V678.67"/>
<path d="M915.5 674.5 V682.83"/>
<path d="M125.4 192.5 H117.07"/>
<path d="M125.4 298.5 H117.07"/>
<path d="M125.4 404.5 H117.07"/>
<path d="M125.4 510.5 H117.07"/>
<path d="M125.4 615.5 H117.07"/>
<path d="M919.5 172.5 H927.83"/>
<path d="M919.5 268.5 H927.83"/>
<path d="M919.5 363.5 H927.83"/>
<path d="M919.5 458.5 H927.83"/>
<path d="M919.5 554.5 H927.83"/>
<path d="M919.5 649.5 H927.83"/>
</g>
<text x="112.2" y="202.0" text-anchor="end">−100</text>
<text x="112.2" y="308.0" text-anchor="end">−105</text>
<text x="112.2" y="414.0" text-anchor="end">−110</text>
<text x="112.2" y="520.0" text-anchor="end">−115</text>
<text x="112.2" y="626.0" text-anchor="end">−120</text>
<text x="932.8" y="181.9">0.5</text>
<text x="932.8" y="277.9">0.4</text>
<text x="932.8" y="372.9">0.3</text>
<text x="932.8" y="467.9">0.2</text>
<text x="932.8" y="563.9">0.1</text>
<text x="932.8" y="658.9">0.0</text>
<text transform="translate(151.7 705.4) rotate(-30)" text-anchor="end" font-size="24.8px">248:10:00</text>
<text transform="translate(260.5 705.4) rotate(-30)" text-anchor="end" font-size="24.8px">248:12:00</text>
<text transform="translate(369.5 705.4) rotate(-30)" text-anchor="end" font-size="24.8px">248:14:00</text>
<text transform="translate(477.5 705.4) rotate(-30)" text-anchor="end" font-size="24.8px">248:16:00</text>
<text transform="translate(586.5 705.4) rotate(-30)" text-anchor="end" font-size="24.8px">248:18:00</text>
<text transform="translate(695.5 705.4) rotate(-30)" text-anchor="end" font-size="24.8px">248:20:00</text>
<text transform="translate(803.5 705.4) rotate(-30)" text-anchor="end" font-size="24.8px">248:22:00</text>
<text transform="translate(912.5 705.4) rotate(-30)" text-anchor="end" font-size="24.8px">249:00:00</text>
<text x="522.4" y="797" text-anchor="middle">Date</text>
<text transform="translate(996.3 400.7) rotate(-90)" text-anchor="middle" dx="0 0 0 0 0 0 -0.5 0 0 0 0 0 0 0.8 0 0 0 0 0 0.4">Earth Solid Angle (sr)</text>
<text transform="translate(30 512.0) rotate(-90)" style="font-kerning:none" x="-1.0" dx="0 -0.2 -0.8 0 0 0 0 0 0 0 0 2.0">Temperature (<tspan x="183.9" dy="-4.9" font-size="17.5px">°</tspan><tspan x="197.5" dy="4.9">C)</tspan></text>
<text x="521.6" y="28.9" text-anchor="middle">2025:248:10:10:05.821 - 2025:248:23:25:24.821</text>
<text x="351.7" y="56.8" style="font-kerning:none">FPTEMP_11 Max: -98.80 <tspan x="662.0" dy="-4.9" font-size="17.5px">°</tspan><tspan x="675.7" dy="4.9">C</tspan></text>
<text x="372.5" y="87.8" style="font-kerning:none">1CRAT Max: -101.47 <tspan x="641.0" dy="-4.9" font-size="17.5px">°</tspan><tspan x="654.8" dy="4.9">C</tspan></text>
<text x="521.9" y="117" text-anchor="middle">Max Earth Solid Angle: 0.52 sr</text>
</svg>
</body></html>
